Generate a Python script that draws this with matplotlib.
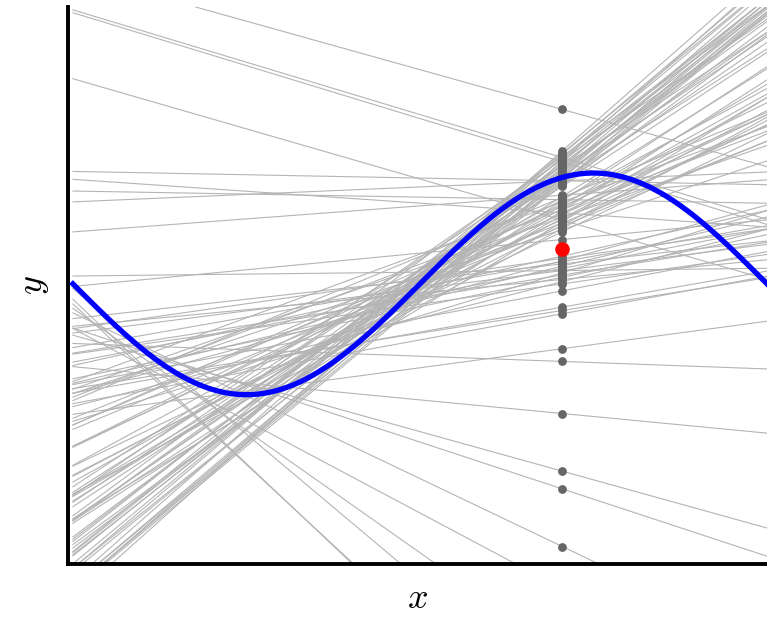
import numpy as np
import matplotlib
matplotlib.use("Agg")
import matplotlib.pyplot as plt

plt.rcParams["mathtext.fontset"] = "cm"

# x position where each fitted line is evaluated
x_eval = 0.705

# each fitted line: its prediction at x_eval and its slope
steep_pred = [1.20, 1.18, 1.17, 1.15, 1.14, 1.13, 1.12, 1.11, 1.10, 1.08, 1.07, 1.06, 1.05, 1.04,
              1.03, 1.02, 1.01, 1.00, 0.99, 0.98, 0.97, 0.96, 0.95, 0.94, 0.93, 0.92, 0.91, 0.90,
              0.89, 0.88]
steep_slope = [5.5, 5.1, 5.3, 4.6, 5.2, 4.9, 4.3, 5.6, 5.0, 4.8, 5.0, 4.1, 5.4, 4.5,
               4.7, 5.3, 4.9, 5.1, 4.2, 5.3, 4.4, 5.0, 5.2, 4.0, 4.7, 5.2, 4.3, 5.2,
               4.6, 4.1]

medium_pred = [0.79, 0.78, 0.76, 0.75, 0.74, 0.72, 0.71, 0.70, 0.68, 0.67, 0.66, 0.64,
               0.63, 0.62, 0.60, 0.59, 0.58, 0.56, 0.55, 0.53, 0.52, 0.50, 0.49, 0.47]
medium_slope = [3.9, 2.6, 3.4, 4.1, 2.3, 3.1, 3.7, 2.8, 3.5, 2.4, 4.0, 3.0,
                2.7, 3.6, 2.2, 3.3, 2.9, 3.8, 2.5, 3.2, 2.6, 3.4, 2.1, 3.0]

lower_pred = [0.25, 0.23, 0.21, 0.20, 0.18, 0.16, 0.14, 0.12, 0.10, 0.08, 0.06, 0.04, 0.02, 0.00,
              -0.063, -0.21, -0.24, -0.27]
lower_slope = [1.4, 0.9, 1.7, 1.1, 0.7, 1.5, 1.2, 0.8, 1.9, 1.0, 1.3, 0.6, 1.6, 0.9,
               1.2, 1.1, 1.0, 1.15]

odd_pred = [1.574, 1.14, 1.10, 0.575, 0.93, 0.64, 0.76, 0.93, 0.80, 0.40, 0.12,
            -0.585, -0.70, -1.17, -1.69, -1.85, -2.37,
            -4.32, -4.27, -3.75, -3.33, -2.75]
odd_slope = [-1.75, -1.89, -1.91, -1.81, -0.12, -0.43, -0.11, 0.27, 0.47, 0.60, 0.07,
             0.84, -0.23, -0.60, -1.74, -2.06, -2.99,
             -5.93, -5.80, -5.26, -4.41, -3.33]

pred = np.array(steep_pred + medium_pred + lower_pred + odd_pred)
slope = np.array(steep_slope + medium_slope + lower_slope + odd_slope)

fig = plt.figure(figsize=(7.67, 6.18), dpi=100)
ax = fig.add_axes([0.0887, 0.087, 0.9113, 0.902])

x_line = np.array([0.0, 1.0])
for p, s in zip(pred, slope):
    ax.plot(x_line, p + s * (x_line - x_eval), color="#b4b4b4", lw=0.8, zorder=1)

# true function
x_true = np.linspace(0, 1, 300)
ax.plot(x_true, -np.sin(2 * np.pi * x_true), color="blue", lw=3.8, zorder=3)

ax.scatter(np.full(len(pred), x_eval), pred, s=40, color="#666666", zorder=2, linewidths=0)
ax.scatter([x_eval], [pred.mean()], s=110, color="red", zorder=4, linewidths=0)

ax.set_xlim(-0.007, 1.0)
ax.set_ylim(-2.53, 2.5)
ax.set_xticks([])
ax.set_yticks([])
for side in ["top", "right"]:
    ax.spines[side].set_visible(False)
for side in ["left", "bottom"]:
    ax.spines[side].set_linewidth(2.8)

ax.set_xlabel("$x$", fontsize=26, labelpad=12)
ax.set_ylabel("$y$", fontsize=26, labelpad=12)

fig.savefig("out.png", dpi=100)
